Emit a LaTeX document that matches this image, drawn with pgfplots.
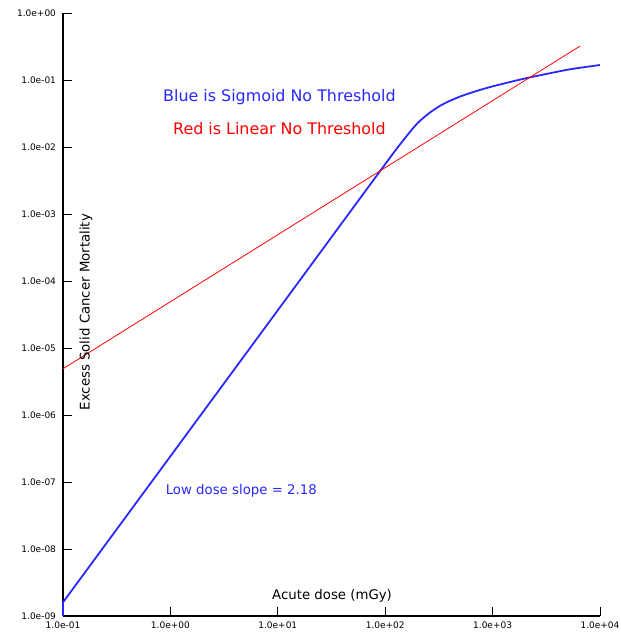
\documentclass[border=0pt]{standalone}
\usepackage{pgfplots}
\pgfplotsset{compat=1.18}
\usepackage{fontspec}
\setmainfont{DejaVu Sans}
\definecolor{sigblue}{RGB}{40,40,255}
\begin{document}
\begin{tikzpicture}
\begin{axis}[
  scale only axis,
  width=537pt, height=603pt,
  at={(0pt,0pt)}, anchor=south west,
  xmode=log, ymode=log,
  xmin=0.1, xmax=10000, ymin=1e-9, ymax=1,
  axis x line=bottom, axis y line=left,
  axis line style={-, line width=1.1pt, black},
  tick align=inside,
  major tick length=9pt,
  tick style={black, line width=0.9pt},
  xminorticks=false, yminorticks=false,
  xtick={0.1,1,10,100,1000,10000},
  xticklabels={1.0e-01,1.0e+00,1.0e+01,1.0e+02,1.0e+03,1.0e+04},
  ytick={1e-9,1e-8,1e-7,1e-6,1e-5,1e-4,1e-3,1e-2,1e-1,1},
  yticklabels={1.0e-09,1.0e-08,1.0e-07,1.0e-06,1.0e-05,1.0e-04,1.0e-03,1.0e-02,1.0e-01,1.0e+00},
  tick label style={font=\fontsize{9pt}{10pt}\selectfont},
  xticklabel style={yshift=-2.5pt},
  yticklabel style={xshift=-3.5pt},
  clip=false,
]
\addplot[sigblue, line width=1.8pt] coordinates {(0.1,1e-9) (0.1,1.6e-9)};
\addplot[sigblue, line width=1.8pt, smooth, tension=0.4] coordinates {
 (0.1,1.6e-9) (1,2.42e-7) (10,3.66e-5) (79.4,3.36e-3) (100,5.55e-3)
 (125.9,9.12e-3) (158.5,0.01462) (199.5,0.0226) (251.2,0.0312) (316.2,0.0403)
 (398.1,0.0487) (501.2,0.05689) (631,0.06457) (794.3,0.07244) (1000,0.08035)
 (1585,0.09661) (2239,0.1096) (3162,0.1230) (5248,0.1445) (10000,0.1675)
};
\addplot[red, line width=0.8pt] coordinates {(0.1,4.9e-6) (6500,0.32)};
\node[sigblue, font=\fontsize{15.9}{18}\selectfont] at (rel axis cs:0.403,0.861) {Blue is Sigmoid No Threshold};
\node[red, font=\fontsize{15.9}{18}\selectfont] at (rel axis cs:0.403,0.809) {Red is Linear No Threshold};
\node[sigblue, font=\fontsize{13.3}{16}\selectfont] at (rel axis cs:0.332,0.207) {Low dose slope = 2.18};
\node[font=\fontsize{13.3}{16}\selectfont] at (rel axis cs:0.501,0.033) {Acute dose (mGy)};
\node[font=\fontsize{13.3}{16}\selectfont, rotate=90] at (rel axis cs:0.0428,0.504) {Excess Solid Cancer Mortality};
\end{axis}
\pgfresetboundingbox
\useasboundingbox (-63pt,-19pt) rectangle (558pt,616pt);
\end{tikzpicture}
\end{document}
